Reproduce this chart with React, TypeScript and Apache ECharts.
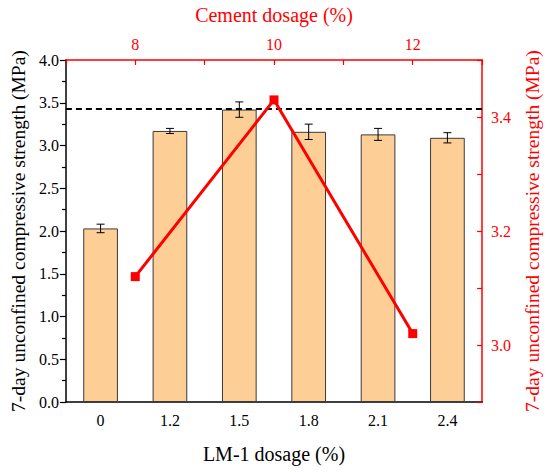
import React, { useEffect, useRef } from "react";
import * as echarts from "echarts";

const categories = ["0", "1.2", "1.5", "1.8", "2.1", "2.4"];
const strength = [2.03, 3.17, 3.42, 3.16, 3.13, 3.09];
const strengthError = [0.05, 0.03, 0.09, 0.09, 0.07, 0.06];
const cementDosage = [8, 10, 12];
const cementStrength = [3.12, 3.43, 3.02];
const referenceLevel = 3.43;
const topTickLabels = ["8", "10", "12"];
const rightTickLabels = ["3.0", "3.2", "3.4"];

const FONT = "'Liberation Serif', 'Times New Roman', serif";
const RED = "#FF0000";

export default function App() {
  const ref = useRef<HTMLDivElement>(null);
  useEffect(() => {
    if (!ref.current) return;
    const chart = echarts.init(ref.current, null, { renderer: "svg" });
    const errData = strength.map((v, i) => [i, v - strengthError[i], v + strengthError[i]]);
    chart.setOption({
      animation: false,
      backgroundColor: "#fff",
      textStyle: { fontFamily: FONT },
      grid: { left: 64, right: 65, top: 58, bottom: 70 },
      xAxis: [
        {
          type: "category",
          position: "bottom",
          data: categories,
          boundaryGap: true,
          axisLine: { lineStyle: { color: "#000", width: 1.5 } },
          axisTick: { alignWithLabel: true, inside: false, length: 6, lineStyle: { color: "#000", width: 1.2 } },
          axisLabel: { color: "#000", fontSize: 16, fontFamily: FONT, margin: 10 },
          name: "LM-1 dosage (%)",
          nameLocation: "middle",
          nameGap: 42,
          nameTextStyle: { color: "#000", fontSize: 20, fontFamily: FONT },
          splitLine: { show: false },
        },
        {
          type: "value",
          position: "top",
          min: 7,
          max: 13,
          interval: 1,
          axisLine: { onZero: false, lineStyle: { color: RED, width: 1.5 } },
          axisTick: { inside: true, length: 5, lineStyle: { color: RED, width: 1.2 } },
          axisLabel: {
            color: RED,
            fontSize: 16,
            fontFamily: FONT,
            margin: 8,
            formatter: (v: number) => (topTickLabels.includes(String(v)) ? String(v) : ""),
          },
          name: "Cement dosage (%)",
          nameLocation: "middle",
          nameGap: 35,
          nameTextStyle: { color: RED, fontSize: 20, fontFamily: FONT },
          splitLine: { show: false },
        },
      ],
      yAxis: [
        {
          type: "value",
          position: "left",
          min: 0,
          max: 4,
          interval: 0.5,
          axisLine: { show: true, onZero: false, lineStyle: { color: "#000", width: 1.5 } },
          axisTick: { show: true, inside: false, length: 6, lineStyle: { color: "#000", width: 1.2 } },
          minorTick: { show: true, splitNumber: 2, length: 4, lineStyle: { color: "#000", width: 1.2 } },
          axisLabel: {
            color: "#000",
            fontSize: 16,
            fontFamily: FONT,
            margin: 7,
            formatter: (v: number) => v.toFixed(1),
          },
          name: "7-day unconfined compressive strength (MPa)",
          nameLocation: "middle",
          nameGap: 37,
          nameTextStyle: { color: "#000", fontSize: 19.5, fontFamily: FONT },
          splitLine: { show: false },
        },
        {
          type: "value",
          position: "right",
          min: 2.9,
          max: 3.5,
          interval: 0.1,
          axisLine: { show: true, onZero: false, lineStyle: { color: RED, width: 1.5 } },
          axisTick: { show: true, inside: true, length: 5, lineStyle: { color: RED, width: 1.2 } },
          axisLabel: {
            color: RED,
            fontSize: 16,
            fontFamily: FONT,
            margin: 9,
            formatter: (v: number) => {
              const s = v.toFixed(1);
              return rightTickLabels.includes(s) ? s : "";
            },
          },
          name: "7-day unconfined compressive strength (MPa)",
          nameLocation: "middle",
          nameGap: 35,
          nameTextStyle: { color: RED, fontSize: 19.5, fontFamily: FONT },
          splitLine: { show: false },
        },
      ],
      series: [
        {
          type: "bar",
          xAxisIndex: 0,
          yAxisIndex: 0,
          data: strength,
          barWidth: "50%",
          itemStyle: { color: "#FDCF96", borderColor: "#3a3a3a", borderWidth: 1 },
          markLine: {
            silent: true,
            symbol: "none",
            label: { show: false },
            lineStyle: { color: "#000", type: [6, 4], width: 2 },
            data: [{ yAxis: referenceLevel }],
          },
        },
        {
          type: "custom",
          xAxisIndex: 0,
          yAxisIndex: 0,
          data: errData,
          encode: { x: 0, y: [1, 2] },
          z: 3,
          renderItem: (params: any, api: any) => {
            const i = api.value(0);
            const lo = api.coord([i, api.value(1)]);
            const hi = api.coord([i, api.value(2)]);
            const half = 4;
            const st = { stroke: "#000", lineWidth: 1 };
            return {
              type: "group",
              children: [
                { type: "line", shape: { x1: lo[0], y1: lo[1], x2: hi[0], y2: hi[1] }, style: st },
                { type: "line", shape: { x1: lo[0] - half, y1: lo[1], x2: lo[0] + half, y2: lo[1] }, style: st },
                { type: "line", shape: { x1: hi[0] - half, y1: hi[1], x2: hi[0] + half, y2: hi[1] }, style: st },
              ],
            };
          },
        },
        {
          type: "line",
          xAxisIndex: 1,
          yAxisIndex: 1,
          data: cementDosage.map((d, i) => [d, cementStrength[i]]),
          symbol: "rect",
          symbolSize: 9,
          z: 5,
          lineStyle: { color: RED, width: 3 },
          itemStyle: { color: RED },
        },
      ],
    });
    return () => chart.dispose();
  }, []);
  return (
    <div
      ref={ref}
      style={{ position: "absolute", left: 0, top: 0, width: 550, height: 472 }}
    />
  );
}
